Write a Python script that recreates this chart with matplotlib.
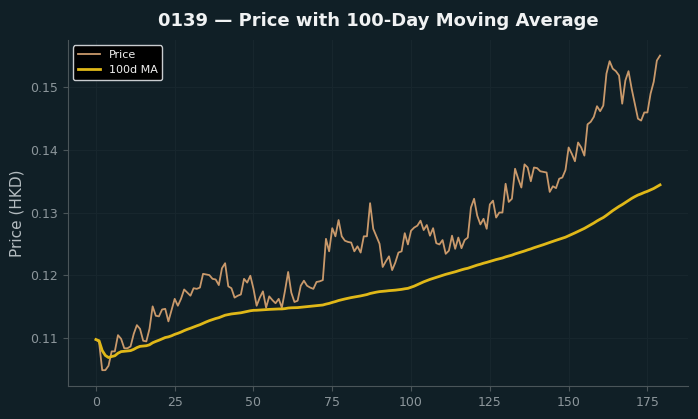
import numpy as np
import pandas as pd
import matplotlib
matplotlib.use('Agg')
import matplotlib.pyplot as plt

# daily closing price of 0139 (HKD)
price = [
    0.1097, 0.1093, 0.1048, 0.1048, 0.1055, 0.1078, 0.1078, 0.1104, 0.1098, 0.1083,
    0.1083, 0.1086, 0.1106, 0.1120, 0.1114, 0.1095, 0.1094, 0.1114, 0.1150, 0.1135,
    0.1134, 0.1145, 0.1146, 0.1126, 0.1144, 0.1162, 0.1151, 0.1162, 0.1177, 0.1172,
    0.1167, 0.1179, 0.1178, 0.1180, 0.1202, 0.1201, 0.1200, 0.1194, 0.1193, 0.1184,
    0.1211, 0.1219, 0.1182, 0.1179, 0.1164, 0.1167, 0.1169, 0.1194, 0.1188, 0.1199,
    0.1178, 0.1151, 0.1164, 0.1174, 0.1148, 0.1166, 0.1160, 0.1155, 0.1162, 0.1148,
    0.1175, 0.1205, 0.1172, 0.1157, 0.1159, 0.1183, 0.1191, 0.1183, 0.1180, 0.1178,
    0.1189, 0.1190, 0.1192, 0.1258, 0.1238, 0.1275, 0.1262, 0.1288, 0.1262, 0.1255,
    0.1253, 0.1252, 0.1238, 0.1246, 0.1236, 0.1262, 0.1262, 0.1315, 0.1274, 0.1262,
    0.1250, 0.1213, 0.1222, 0.1230, 0.1208, 0.1220, 0.1236, 0.1238, 0.1267, 0.1249,
    0.1271, 0.1276, 0.1279, 0.1287, 0.1272, 0.1280, 0.1263, 0.1275, 0.1251, 0.1249,
    0.1256, 0.1234, 0.1239, 0.1263, 0.1242, 0.1260, 0.1243, 0.1256, 0.1260, 0.1308,
    0.1322, 0.1295, 0.1281, 0.1290, 0.1274, 0.1313, 0.1319, 0.1292, 0.1300, 0.1300,
    0.1346, 0.1317, 0.1322, 0.1370, 0.1354, 0.1340, 0.1377, 0.1372, 0.1350, 0.1372,
    0.1371, 0.1366, 0.1365, 0.1364, 0.1333, 0.1342, 0.1339, 0.1354, 0.1356, 0.1368,
    0.1404, 0.1394, 0.1382, 0.1412, 0.1404, 0.1391, 0.1441, 0.1445, 0.1453, 0.1470,
    0.1462, 0.1471, 0.1522, 0.1542, 0.1530, 0.1526, 0.1519, 0.1474, 0.1511, 0.1526,
    0.1498, 0.1474, 0.1450, 0.1447, 0.1460, 0.1460, 0.1490, 0.1509, 0.1543, 0.1551,
]
days = np.arange(len(price))

# 100-day moving average (shorter window at the start)
ma100 = pd.Series(price).rolling(100, min_periods=1).mean()

bg = '#101f26'
fig = plt.figure(figsize=(6.98, 4.19), dpi=100, facecolor=bg)
ax = fig.add_axes([0.097, 0.079, 0.889, 0.826], facecolor=bg)

ax.plot(days, price, color='#c9996b', lw=1.3, label='Price')
ax.plot(days, ma100, color='#e0b818', lw=2.0, label='100d MA')

ax.grid(True, color='#17262d', lw=0.8)
ax.set_axisbelow(True)
for side in ['top', 'right']:
    ax.spines[side].set_visible(False)
for side in ['left', 'bottom']:
    ax.spines[side].set_color('#4a5559')
ax.tick_params(colors='#4a5559', labelcolor='#8c969b', labelsize=9)
ax.set_xticks([0, 25, 50, 75, 100, 125, 150, 175])

ax.set_ylabel('Price (HKD)', color='#b4bcc0', fontsize=11)
ax.set_title('0139 — Price with 100-Day Moving Average', color='#f0f2f3',
             fontsize=13, fontweight='bold', pad=10)

leg = ax.legend(loc='upper left', facecolor='black', edgecolor='#c8cccf',
                fontsize=8, framealpha=1)
for t in leg.get_texts():
    t.set_color('#f0f0f0')

fig.savefig('out.png', dpi=100, facecolor=bg)
